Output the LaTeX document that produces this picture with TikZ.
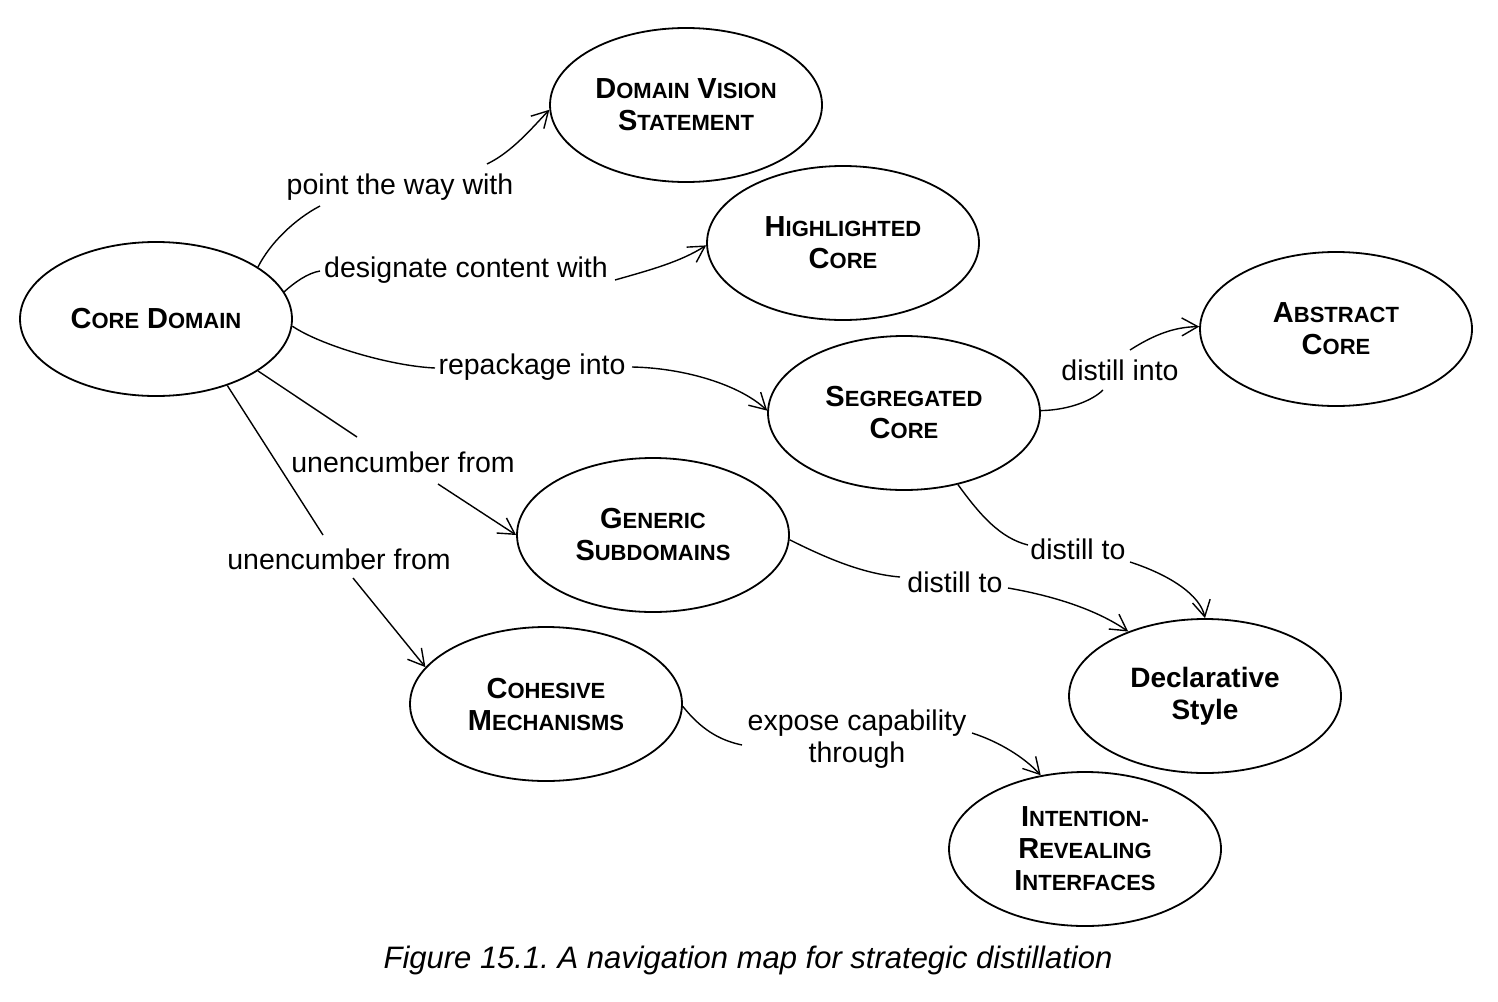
\documentclass[tikz,border=0pt]{standalone}
\usepackage{fontspec}
\setmainfont{Liberation Sans}
\usetikzlibrary{arrows.meta,shapes.geometric}
\newcommand{\SC}[2]{{\fontsize{29}{32}\selectfont #1}{\fontsize{22}{32}\selectfont #2}}
\frenchspacing
\begin{document}
\begin{tikzpicture}[x=1pt,y=-1pt,
  ell/.style={draw, ellipse, line width=1.8pt, minimum width=272pt, minimum height=154pt,
    inner sep=0pt, align=center, font=\bfseries\fontsize{28}{32}\selectfont},
  lbl/.style={inner sep=0pt, align=center, font=\fontsize{28.5}{32}\selectfont},
  conn/.style={line width=1.4pt},
  arr/.style={conn, -{Straight Barb[length=16pt,width=18pt,line width=1.4pt]}}]
\useasboundingbox (0,0) rectangle (1498,1001);
% ellipses
\node[ell] (cd)  at (156,319)  {\SC{C}{ORE} \SC{D}{OMAIN}};
\node[ell] (dvs) at (686,105)  {\SC{D}{OMAIN} \SC{V}{ISION}\\\SC{S}{TATEMENT}};
\node[ell] (hc)  at (843,243)  {\SC{H}{IGHLIGHTED}\\\SC{C}{ORE}};
\node[ell] (ac)  at (1336,329) {\SC{A}{BSTRACT}\\\SC{C}{ORE}};
\node[ell] (sc)  at (904,413)  {\SC{S}{EGREGATED}\\\SC{C}{ORE}};
\node[ell] (gs)  at (653,535)  {\SC{G}{ENERIC}\\\SC{S}{UBDOMAINS}};
\node[ell] (cm)  at (546,704)  {\SC{C}{OHESIVE}\\\SC{M}{ECHANISMS}};
\node[ell] (ds)  at (1205,696) {Declarative\\Style};
\node[ell] (iri) at (1085,849) {\SC{I}{NTENTION-}\\\SC{R}{EVEALING}\\\SC{I}{NTERFACES}};
% labels
\node[lbl] (l1) at (400,187) {point the way with};
\node[lbl] (l2) at (466,270) {designate content with};
\node[lbl] (l3) at (532,367) {repackage into};
\node[lbl] (l4) at (403,462) {unencumber from};
\node[lbl] (l5) at (339,559) {unencumber from};
\node[lbl] (l6) at (1120,370) {distill into};
\node[lbl] (l7) at (1078,549) {distill to};
\node[lbl] (l8) at (955,582) {distill to};
\node[lbl] (l9) at (857,739) {expose capability\\through};
% gap ends
\coordinate (a1) at (320,206);  \coordinate (a2) at (487,164);
\coordinate (b1) at (320,271);  \coordinate (b2) at (615,280);
\coordinate (c1) at (435,368);  \coordinate (c2) at (632,367);
\coordinate (d1) at (357,437);  \coordinate (d2) at (438,484);
\coordinate (e1) at (323,535);  \coordinate (e2) at (353,578);
\coordinate (f1) at (1103,390); \coordinate (f2) at (1130,350);
\coordinate (g1) at (1028,545); \coordinate (g2) at (1130,562);
\coordinate (h1) at (900,577);  \coordinate (h2) at (1008,588);
\coordinate (i1) at (742,745);  \coordinate (i2) at (972,733);
% connectors
\draw[conn] (cd.27) .. controls (270,243) and (295,219) .. (a1);
\draw[arr]  (a2) .. controls (512,152) and (532,128) .. (dvs.182);
\draw[conn] (cd.12) .. controls (295,282) and (308,273) .. (b1);
\draw[arr]  (b2) .. controls (650,270) and (680,262) .. (hc.181);
\draw[conn] (cd.-3) .. controls (320,345) and (390,366) .. (c1);
\draw[arr]  (c2) .. controls (685,368) and (740,385) .. (sc.179);
\draw[conn] (cd.-27) -- (d1);
\draw[arr]  (d2) -- (gs.180);
\draw[conn] (cd.-43) -- (e1);
\draw[arr]  (e2) -- (cm.163);
\draw[conn] (sc.1) .. controls (1070,410) and (1093,400) .. (f1);
\draw[arr]  (f2) .. controls (1155,334) and (1175,327) .. (ac.179);
\draw[conn] (sc.-53) .. controls (980,515) and (1000,538) .. (g1);
\draw[arr]  (g2) .. controls (1170,575) and (1200,595) .. (ds.90);
\draw[conn] (gs.-2) .. controls (830,560) and (865,574) .. (h1);
\draw[arr]  (h2) .. controls (1060,597) and (1100,612) .. (ds.140);
\draw[conn] (cm.-1) .. controls (700,728) and (718,740) .. (i1);
\draw[arr]  (i2) .. controls (1000,742) and (1025,758) .. (iri.121);
% caption
\node[inner sep=0pt, font=\itshape\fontsize{31}{34}\selectfont] (cap) at (748,960)
  {Figure 15.1. A navigation map for strategic distillation};
\end{tikzpicture}
\end{document}
